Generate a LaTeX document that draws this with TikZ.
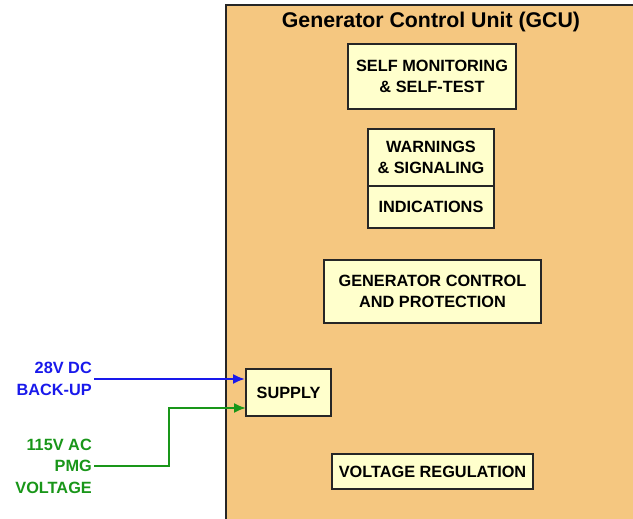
\documentclass[tikz,border=0pt]{standalone}
\usepackage{fontspec}
\setmainfont{Liberation Sans}
\usetikzlibrary{calc,positioning,arrows.meta}
\usepackage{xcolor}
\definecolor{boardtan}{RGB}{245,199,128}
\definecolor{boxcream}{RGB}{255,255,204}
\definecolor{feedblue}{RGB}{25,25,235}
\definecolor{feedgreen}{RGB}{25,150,25}

\begin{document}
\begin{tikzpicture}[x=1pt, y=-1pt, >={Latex[length=12pt,width=10pt]},
    unitbox/.style={draw=black!85, line width=2pt, fill=boxcream, align=center,
        inner sep=0pt, font=\fontsize{16.3}{21}\selectfont\bfseries},
    feedlabel/.style={anchor=east, align=right, inner sep=2pt,
        font=\fontsize{16.3}{21.5}\selectfont\bfseries}]
    \useasboundingbox (0,0) rectangle (633,519);

    % GCU housing (circuit board)
    \fill[boardtan] (226,5) rectangle (633,519);
    \draw[line width=2pt, black!85] (226,519) -- (226,5) -- (633,5);
    \node[font=\fontsize{21.3}{24}\selectfont\bfseries] (gcu) at (431,21.5) {Generator Control Unit (GCU)};

    % Functional blocks
    \node[unitbox, minimum width=168pt, minimum height=65pt] (selfmon) at (432,76.5) {SELF MONITORING\\\& SELF-TEST};
    \node[unitbox, minimum width=126pt, minimum height=57pt] (warn) at (431,157.5) {WARNINGS\\\& SIGNALING};
    \node[unitbox, minimum width=126pt, minimum height=42pt] (indic) at (431,207) {INDICATIONS};
    \node[unitbox, minimum width=217pt, minimum height=63pt] (genctl) at (432.5,291.5) {GENERATOR CONTROL\\AND PROTECTION};
    \node[unitbox, minimum width=85pt, minimum height=47pt] (supply) at (288.5,392.5) {SUPPLY};
    \node[unitbox, minimum width=201pt, minimum height=35pt] (voltreg) at (432.5,471.5) {VOLTAGE REGULATION};

    % External feeds
    \node[feedlabel, text=feedblue] (dcin) at (94,379) {28V DC\\BACK-UP};
    \node[feedlabel, text=feedgreen] (acin) at (94,466) {115V AC\\PMG\\VOLTAGE};

    \coordinate (acbend) at (169,408);
    \coordinate (acend) at (246,408);

    \draw[->, line width=2pt, feedblue] (dcin.east) -- (dcin.east -| supply.west);
    \draw[->, line width=2pt, feedgreen] (acin.east) -| (acbend) -- (acend);
\end{tikzpicture}
\end{document}
